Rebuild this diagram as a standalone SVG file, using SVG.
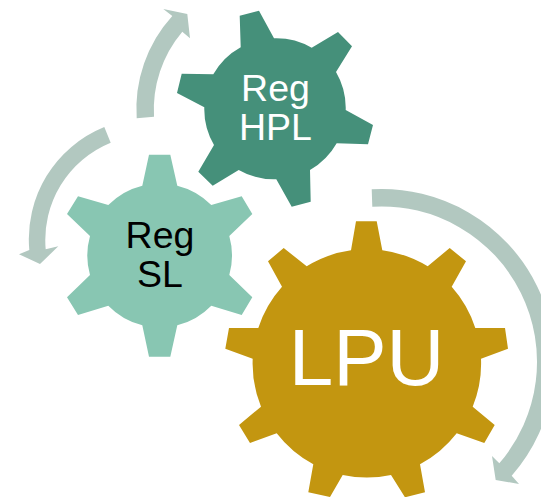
<svg xmlns="http://www.w3.org/2000/svg" width="541" height="497" viewBox="0 0 541 497">
<style>
.arrow{fill:#b2c8c0}
.t{font-family:"Liberation Sans",Arial,sans-serif;text-anchor:middle}
.w{fill:#fff}
.k{fill:#000}
.s{font-size:37.5px}
.l{font-size:80px}
</style>
<rect width="541" height="497" fill="#fff"/>
<g id="connectors">
<path class="arrow" d="M371.7 189.3A172.8 172.8 0 0 1 511.7 475.7L519 484L495.7 480L492 456L499.3 463.3A155.4 155.4 0 0 0 372.3 206.7Z"/>
<path class="arrow" d="M136.7 118.3A138 138 0 0 1 172.3 16L163.3 9L187.3 14L190 38.3L182.3 31.7A121 121 0 0 0 154 116.7Z"/>
<path class="arrow" d="M104.3 127A121 121 0 0 0 29.3 250L19 254.3L40 264L58.3 246.3L45.7 249.3A105 105 0 0 1 110.7 142.7Z"/>
</g>
<g id="node-hpl">
<path fill="#45907a" d="M240.7 47.3L239.7 15.7L259 10.7L274 38.3A71 71 0 0 1 311.7 47.7L338 32L352 46.3L336 72A71 71 0 0 1 345.7 110L373 125L368 144.3L336.7 143.3A71 71 0 0 1 310 170L310.7 201.7L291.7 206.7L276.3 179.3A71 71 0 0 1 238.7 170L212.7 185.7L198.3 171.7L214 145A71 71 0 0 1 204.3 107.3L177 93L181.7 73.7L213.3 74.3A71 71 0 0 1 240.7 47.3Z"/>
<text class="t w s" x="275.5" y="100.5">Reg</text>
<text class="t w s" x="275.5" y="139.5">HPL</text>
</g>
<g id="node-sl">
<path fill="#88c6b2" d="M149 154.7H170.3L177.3 185.7A72 72 0 0 1 211.3 205L241.7 196.3L252.3 214L229.3 236A72 72 0 0 1 229.3 275L252.3 297.3L241.7 315L211.3 305.7A72 72 0 0 1 177.3 325.3L170.3 356.7H149L142.3 325.3A72 72 0 0 1 108.3 305.7L78 315L67 297.3L90 275A72 72 0 0 1 90 236L67 214L78 196.3L108.3 205A72 72 0 0 1 142.3 185.7Z"/>
<text class="t k s" x="160" y="247.5">Reg</text>
<text class="t k s" x="160" y="286.5">SL</text>
</g>
<g id="node-lpu">
<path fill="#c39610" d="M356 221.3H376.7L382.3 250.3A114.5 114.5 0 0 1 427.7 266.3L449.7 248L466 261.3L451.7 286.7A114.5 114.5 0 0 1 475.3 328H505L508 348.7L481 358.7A114.5 114.5 0 0 1 472.7 406.7L494.7 425L484.3 443L456.7 433.3A114.5 114.5 0 0 1 420 464.3L425 492.3L405 497.3L391 475A114.5 114.5 0 0 1 342.7 475L330 497L308.3 492.3L313.3 464.3A114.5 114.5 0 0 1 276.7 433.3L250 443L239 425L261 406.7A114.5 114.5 0 0 1 252.7 358.7L225.3 348.7L229 328H258.3A114.5 114.5 0 0 1 282 286.7L268 261.3L283.7 248L306.7 266.3A114.5 114.5 0 0 1 351 250.3Z"/>
<text class="t w l" x="366.5" y="385">LPU</text>
</g>
</svg>
